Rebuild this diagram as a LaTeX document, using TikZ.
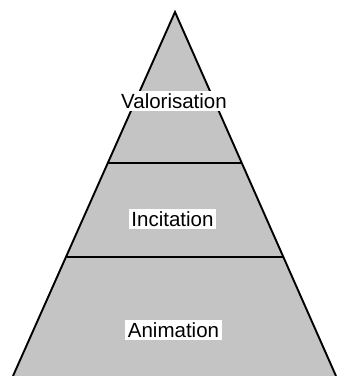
\documentclass[tikz,border=0pt]{standalone}
\usepackage{fontspec}
\setsansfont{Liberation Sans}
\usetikzlibrary{positioning}
\definecolor{pyrgray}{HTML}{C4C4C4}
\tikzset{
x=1pt, y=1pt, % one unit is one pixel of the picture
every label box/.style={fill=white, inner xsep=2.5pt, inner ysep=2.5pt, font=\sffamily\fontsize{20.5}{24}\selectfont}, % white box round each level's name
edge line/.style={line width=1.9pt, line join=miter}, % the pyramid's outline
}

\begin{document}
\begin{tikzpicture}
\useasboundingbox (0,0) rectangle (337,376);

\coordinate (apex) at (175,364);
\coordinate (bl) at (13,0);
\coordinate (br) at (336,0);
\coordinate (l1) at (108,213);
\coordinate (r1) at (241,213);
\coordinate (l2) at (67,119);
\coordinate (r2) at (284,119);

\fill[pyrgray] (apex) -- (bl) -- (br) -- cycle;
\draw[edge line] (bl) -- (apex) -- (br);
\draw[edge line] (l1) -- (r1);
\draw[edge line] (l2) -- (r2);

\node[every label box] at (174,275) (val) {Valorisation};
\node[every label box] at (172.5,157) (inc) {Incitation};
\node[every label box] at (173.5,46) (ani) {Animation};
\end{tikzpicture}
\end{document}
